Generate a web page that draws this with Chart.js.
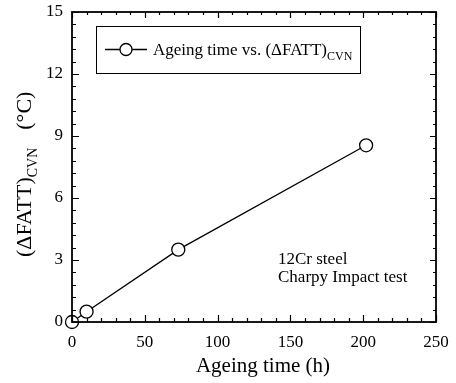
<!DOCTYPE html>
<html>
<head>
<meta charset="utf-8">
<script src="https://cdn.jsdelivr.net/npm/chart.js@4.4.0/dist/chart.umd.min.js"></script>
<style>
html, body { margin: 0; padding: 0; background: #fff; }
</style>
</head>
<body>
<canvas id="myChart" width="456" height="383"></canvas>
<script>
// data
var ageingTime = [0, 10, 73, 202];          // h
var deltaFatt = [0, 0.5, 3.5, 8.55];        // (dFATT)CVN in deg C
var xTicks = [0, 50, 100, 150, 200, 250];
var yTicks = [0, 3, 6, 9, 12, 15];
var xMinorStep = 10;
var yMinorStep = 0.6;

var SERIF = "'Liberation Serif', 'Times New Roman', serif";

// draws the frame, inward ticks and all the free text
var decorations = {
    id: 'decorations',
    afterDraw: function(chart) {
        var ctx = chart.ctx;
        var a = chart.chartArea;
        var xs = chart.scales.x, ys = chart.scales.y;
        ctx.save();
        ctx.strokeStyle = '#000';
        ctx.fillStyle = '#000';

        // frame
        ctx.lineWidth = 1.8;
        ctx.strokeRect(a.left, a.top, a.right - a.left, a.bottom - a.top);

        // ticks, inward on all four sides
        ctx.lineWidth = 1.2;
        var v, p, len;
        for (v = xs.min; v <= xs.max + 0.001; v += xMinorStep) {
            p = Math.round(xs.getPixelForValue(v)) + 0.5;
            len = xTicks.indexOf(Math.round(v)) >= 0 ? 7 : 4;
            ctx.beginPath();
            ctx.moveTo(p, a.bottom); ctx.lineTo(p, a.bottom - len);
            ctx.moveTo(p, a.top); ctx.lineTo(p, a.top + len - 1);
            ctx.stroke();
        }
        for (v = ys.min; v <= ys.max + 0.001; v += yMinorStep) {
            p = Math.round(ys.getPixelForValue(v)) + 0.5;
            len = Math.abs(v / 3 - Math.round(v / 3)) < 0.01 ? 7 : 4;
            ctx.beginPath();
            ctx.moveTo(a.left, p); ctx.lineTo(a.left + len, p);
            ctx.moveTo(a.right, p); ctx.lineTo(a.right - len + 1, p);
            ctx.stroke();
        }

        // legend box
        ctx.lineWidth = 1;
        ctx.strokeRect(96.5, 26.5, 264, 47);
        ctx.lineWidth = 1.3;
        ctx.beginPath();
        ctx.moveTo(105, 49.5); ctx.lineTo(147, 49.5);
        ctx.stroke();
        ctx.beginPath();
        ctx.arc(126, 49.5, 6, 0, Math.PI * 2);
        ctx.fillStyle = '#fff';
        ctx.fill();
        ctx.stroke();
        ctx.fillStyle = '#000';
        ctx.textBaseline = 'alphabetic';
        ctx.textAlign = 'left';
        ctx.font = '17px ' + SERIF;
        var lt = 'Ageing time vs. (ΔFATT)';
        ctx.fillText(lt, 153, 55);
        var w = ctx.measureText(lt).width;
        ctx.font = '12px ' + SERIF;
        ctx.fillText('CVN', 153 + w, 60);

        // annotation
        ctx.font = '17px ' + SERIF;
        ctx.fillText('12Cr steel', 278, 264);
        ctx.fillText('Charpy Impact test', 278, 282);

        // x axis title
        ctx.font = '21px ' + SERIF;
        ctx.textAlign = 'center';
        ctx.fillText('Ageing time (h)', 263, 372);

        // y axis title, rotated
        ctx.translate(31, 257);
        ctx.rotate(-Math.PI / 2);
        ctx.textAlign = 'left';
        ctx.font = '22px ' + SERIF;
        var yt = '(ΔFATT)';
        ctx.fillText(yt, 0, 0);
        var yw = ctx.measureText(yt).width;
        ctx.font = '14px ' + SERIF;
        ctx.fillText('CVN', yw, 6);
        var cw = ctx.measureText('CVN').width;
        ctx.font = '22px ' + SERIF;
        ctx.fillText('(°C)', yw + cw + 18, 0);
        ctx.restore();
    }
};

// fixed axis boxes, no extra room for overhanging labels
function fixBox(size) {
    return function(scale) {
        if (scale.isHorizontal()) scale.height = size; else scale.width = size;
        scale.paddingLeft = 0; scale.paddingRight = 0;
        scale.paddingTop = 0; scale.paddingBottom = 0;
    };
}

var ctx = document.getElementById('myChart').getContext('2d');
var chart = new Chart(ctx, {
    type: 'scatter',
    data: {
        datasets: [{
            label: 'Ageing time vs. (ΔFATT)CVN',
            data: ageingTime.map(function(t, i) { return { x: t, y: deltaFatt[i] }; }),
            showLine: true,
            borderColor: '#000',
            borderWidth: 1.3,
            pointRadius: 6.5,
            pointBackgroundColor: '#fff',
            pointBorderColor: '#000',
            pointBorderWidth: 1.3,
            clip: false
        }]
    },
    options: {
        responsive: false,
        animation: false,
        devicePixelRatio: 1,
        layout: { padding: { left: 0, right: 20, top: 12, bottom: 0 } },
        plugins: {
            legend: { display: false },
            tooltip: { enabled: false }
        },
        scales: {
            x: {
                type: 'linear',
                min: 0, max: 250,
                afterFit: fixBox(61),
                afterBuildTicks: function(scale) {
                    scale.ticks = xTicks.map(function(v) { return { value: v }; });
                },
                grid: { display: false, drawTicks: false },
                border: { display: false },
                ticks: {
                    padding: 10,
                    maxRotation: 0,
                    color: '#000',
                    font: { family: SERIF, size: 17 }
                }
            },
            y: {
                type: 'linear',
                min: 0, max: 15,
                afterFit: fixBox(72),
                afterBuildTicks: function(scale) {
                    scale.ticks = yTicks.map(function(v) { return { value: v }; });
                },
                grid: { display: false, drawTicks: false },
                border: { display: false },
                ticks: {
                    padding: 9,
                    color: '#000',
                    font: { family: SERIF, size: 17 }
                }
            }
        }
    },
    plugins: [decorations]
});
</script>
</body>
</html>
